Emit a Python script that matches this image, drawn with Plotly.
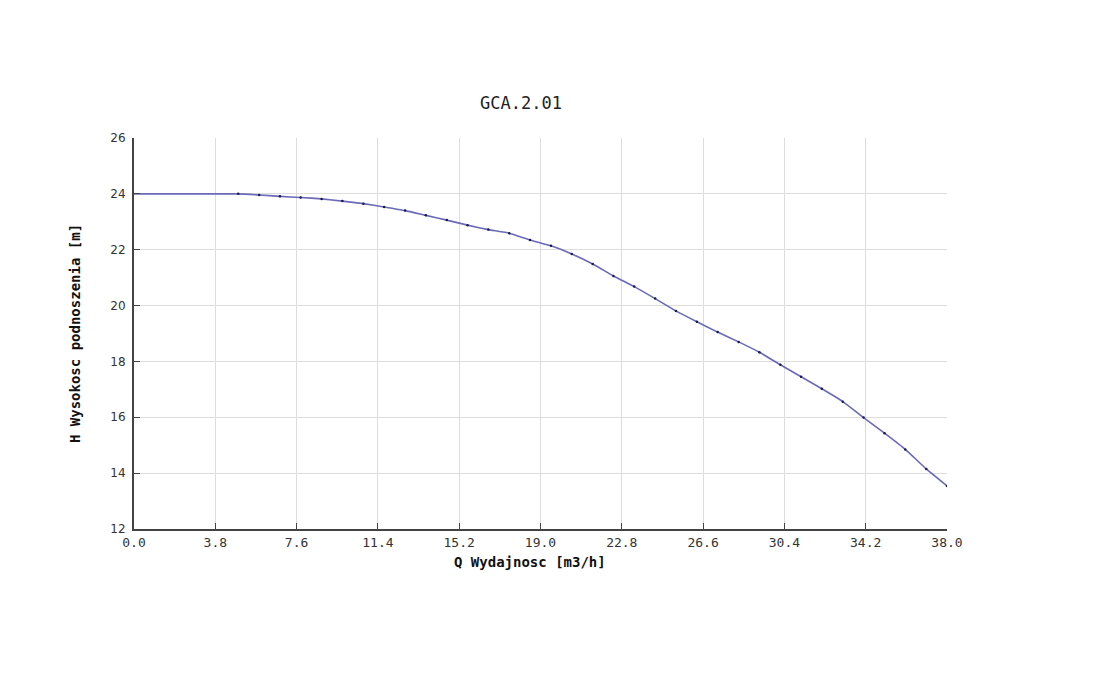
import plotly.graph_objs as go

# pump curve GCA.2.01
q_flow = [0.0, 4.87, 5.85, 6.82, 7.79, 8.77, 9.74, 10.72, 11.69, 12.67, 13.64,
          14.62, 15.59, 16.56, 17.54, 18.51, 19.49, 20.46, 21.44, 22.41, 23.38,
          24.36, 25.33, 26.31, 27.28, 28.26, 29.23, 30.21, 31.18, 32.15, 33.13,
          34.10, 35.08, 36.05, 37.03, 38.0]
h_head = [24.0, 24.0, 23.96, 23.91, 23.87, 23.82, 23.74, 23.65, 23.53, 23.40, 23.23,
          23.06, 22.88, 22.72, 22.59, 22.35, 22.14, 21.85, 21.49, 21.06, 20.68,
          20.25, 19.81, 19.42, 19.05, 18.70, 18.33, 17.88, 17.45, 17.02, 16.56,
          15.99, 15.43, 14.85, 14.15, 13.54]

x_ticks = [0.0, 3.8, 7.6, 11.4, 15.2, 19.0, 22.8, 26.6, 30.4, 34.2, 38.0]
y_ticks = [12, 14, 16, 18, 20, 22, 24, 26]

mono = "DejaVu Sans Mono"

# line drawn first, then the tiny dots (skip the first point like the original)
line = go.Scatter(x=q_flow, y=h_head, mode='lines',
                  line=dict(color='#6a6ab8', width=1.6, shape='spline', smoothing=0.4),
                  hoverinfo='skip', showlegend=False)
dots = go.Scatter(x=q_flow[1:], y=h_head[1:], mode='markers',
                  marker=dict(color='#1a1a4a', size=2.5),
                  showlegend=False)

# page body adds ~8px, so margins are a bit smaller than the target positions
layout = go.Layout(
    width=1093, height=676,
    margin=dict(l=126, r=154, t=130, b=155),
    paper_bgcolor='white', plot_bgcolor='white',
    title=dict(text='GCA.2.01', x=0.4694, xanchor='center', y=0.859, yanchor='middle',
               font=dict(family=mono, size=17, color='#222')),
    xaxis=dict(range=[0, 38], tickvals=x_ticks, ticktext=['%.1f' % v for v in x_ticks],
               showgrid=True, gridcolor='#dddddd', gridwidth=1,
               showline=True, linecolor='#444', linewidth=2,
               ticks='inside', ticklen=6, tickcolor='#444', tickwidth=1,
               tickfont=dict(family=mono, size=13, color='#333'),
               zeroline=False, fixedrange=True),
    yaxis=dict(range=[12, 26], tickvals=y_ticks,
               showgrid=True, gridcolor='#dddddd', gridwidth=1,
               showline=True, linecolor='#444', linewidth=2,
               ticks='inside', ticklen=6, tickcolor='#444', tickwidth=1,
               ticklabelstandoff=4,
               tickfont=dict(family='DejaVu Sans', size=12, color='#333'),
               zeroline=False, fixedrange=True,
               title=dict(text='<b>H Wysokosc podnoszenia [m]</b>', standoff=26,
                          font=dict(family=mono, size=14, color='#111'))),
    annotations=[dict(text='<b>Q Wydajnosc [m3/h]</b>', xref='paper', yref='paper',
                      x=0.487, y=0, xanchor='center', yanchor='middle', yshift=-33,
                      showarrow=False, font=dict(family=mono, size=14, color='#111'))],
)

fig = go.Figure(data=[line, dots], layout=layout)
fig.write_html("out.html")
